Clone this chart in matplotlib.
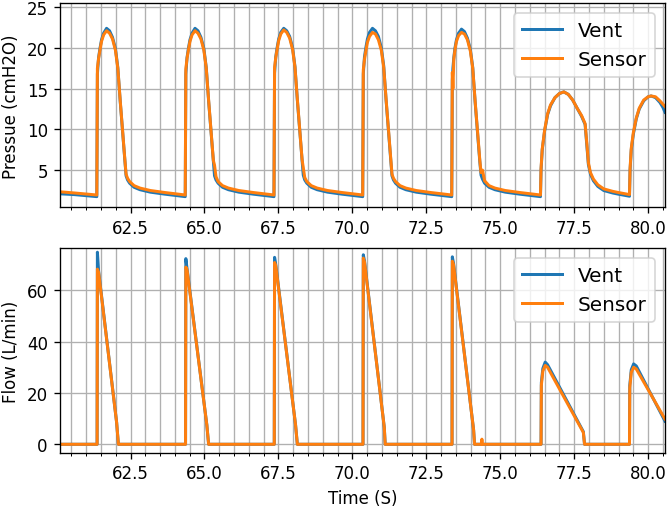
import matplotlib
matplotlib.use("Agg")
import matplotlib.pyplot as plt
from matplotlib.ticker import MultipleLocator

# pressure trace (time in s, cmH2O)
t_pres = [60.10, 60.60, 61.36,
          61.38, 61.42, 61.47, 61.52, 61.59, 61.69, 61.79, 61.89, 61.99, 62.07, 62.15,
          62.24, 62.31, 62.35, 62.40, 62.47, 62.62, 62.82, 63.17, 63.67, 64.35,
          64.37, 64.41, 64.46, 64.51, 64.58, 64.68, 64.78, 64.88, 64.98, 65.06, 65.14,
          65.23, 65.30, 65.34, 65.39, 65.46, 65.61, 65.81, 66.16, 66.66, 67.35,
          67.37, 67.41, 67.46, 67.51, 67.58, 67.68, 67.78, 67.88, 67.98, 68.06, 68.14,
          68.23, 68.30, 68.34, 68.39, 68.46, 68.61, 68.81, 69.16, 69.66, 70.35,
          70.37, 70.41, 70.46, 70.51, 70.58, 70.68, 70.78, 70.88, 70.98, 71.06, 71.14,
          71.23, 71.30, 71.34, 71.39, 71.46, 71.61, 71.81, 72.16, 72.66, 73.36,
          73.38, 73.40, 73.43, 73.47, 73.52, 73.59, 73.69, 73.79, 73.89, 73.99, 74.07, 74.15,
          74.24, 74.31, 74.35, 74.40, 74.47, 74.62, 74.82, 75.17, 75.67, 76.36,
          76.38, 76.42, 76.50, 76.60, 76.70, 76.85, 77.00, 77.15, 77.30, 77.45, 77.60, 77.75,
          77.87, 77.93, 77.98, 78.05, 78.15, 78.30, 78.50, 78.80, 79.00, 79.37,
          79.39, 79.43, 79.50, 79.60, 79.70, 79.85, 80.00, 80.10, 80.25, 80.40, 80.50, 80.57]
p_vent = [2.1, 2.0, 1.75,
          16.8, 18.8, 20.0, 21.0, 21.8, 22.4, 22.1, 21.3, 19.9, 17.6, 13.5,
          9.3, 6.0, 4.3, 3.8, 3.4, 2.9, 2.6, 2.3, 2.05, 1.75,
          16.8, 18.8, 20.0, 21.0, 21.8, 22.4, 22.1, 21.3, 19.9, 17.6, 13.5,
          9.3, 6.0, 4.3, 3.8, 3.4, 2.9, 2.6, 2.3, 2.05, 1.75,
          16.9, 18.9, 20.1, 21.1, 21.9, 22.4, 22.1, 21.4, 20.0, 17.7, 13.6,
          9.4, 6.1, 4.4, 3.8, 3.4, 2.9, 2.6, 2.3, 2.05, 1.75,
          16.8, 18.9, 20.1, 21.1, 21.9, 22.4, 22.1, 21.4, 20.0, 17.8, 13.6,
          9.4, 6.0, 4.3, 3.8, 3.4, 2.9, 2.6, 2.3, 2.05, 1.75,
          16.0, 17.5, 18.8, 20.0, 21.0, 21.8, 22.3, 22.0, 21.2, 19.8, 17.6, 13.4,
          9.2, 6.0, 4.4, 3.9, 3.4, 2.9, 2.6, 2.3, 2.05, 1.75,
          5.0, 7.5, 9.8, 11.8, 12.9, 13.9, 14.4, 14.6, 14.3, 13.6, 12.6, 11.6,
          10.6, 8.0, 5.7, 4.5, 3.7, 3.0, 2.5, 2.2, 2.05, 1.8,
          5.0, 7.5, 9.4, 11.3, 12.5, 13.5, 14.0, 14.1, 13.9, 13.3, 12.7, 12.1]
p_sensor = [2.35, 2.2, 1.95,
            17.5, 18.7, 19.8, 20.8, 21.6, 22.1, 21.8, 21.1, 19.7, 17.5, 13.6,
            9.4, 6.2, 4.5, 4.0, 3.6, 3.1, 2.8, 2.5, 2.25, 1.95,
            17.4, 18.7, 19.8, 20.8, 21.6, 22.1, 21.8, 21.1, 19.7, 17.5, 13.6,
            9.4, 6.2, 5.6, 4.2, 3.6, 3.1, 2.8, 2.5, 2.25, 1.95,
            17.6, 18.8, 19.9, 20.9, 21.7, 22.2, 21.9, 21.2, 19.8, 17.6, 13.7,
            9.5, 6.3, 5.3, 4.1, 3.6, 3.1, 2.8, 2.5, 2.25, 1.95,
            17.3, 18.6, 19.7, 20.7, 21.4, 21.9, 21.7, 21.0, 19.7, 17.6, 13.7,
            9.5, 6.2, 4.5, 4.0, 3.6, 3.1, 2.8, 2.5, 2.25, 1.95,
            17.0, 15.0, 18.6, 19.8, 20.8, 21.5, 21.9, 21.7, 21.0, 19.6, 17.5, 13.5,
            9.3, 6.2, 4.7, 5.0, 3.7, 3.1, 2.8, 2.5, 2.25, 1.95,
            5.2, 7.6, 9.9, 11.9, 13.0, 13.9, 14.4, 14.6, 14.3, 13.6, 12.6, 11.7,
            10.7, 8.2, 5.9, 4.7, 3.9, 3.2, 2.7, 2.4, 2.25, 2.0,
            5.2, 7.7, 9.6, 11.4, 12.6, 13.6, 14.0, 14.1, 14.0, 13.5, 13.1, 12.8]

# flow trace (time in s, L/min)
t_flow = [60.10,
          61.37, 61.38, 61.42, 62.03, 62.09,
          64.36, 64.37, 64.41, 65.08, 65.14,
          67.36, 67.37, 67.41, 68.08, 68.14,
          70.36, 70.37, 70.41, 71.08, 71.11,
          73.37, 73.38, 73.42, 74.10, 74.13, 74.36, 74.38, 74.40,
          76.38, 76.39, 76.44, 76.52, 76.60, 77.81, 77.85,
          79.37, 79.38, 79.43, 79.51, 79.60, 80.57]
f_vent = [0,
          0, 74.8, 67.5, 8.5, 0,
          0, 72.3, 68.5, 7.5, 0,
          0, 72.8, 70.0, 7.5, 0,
          0, 73.8, 71.5, 6.5, 0,
          0, 73.0, 70.5, 5.5, 0, 0, 0, 0,
          0, 24.0, 29.5, 32.0, 31.0, 4.9, 0,
          0, 23.0, 29.0, 31.3, 30.5, 9.0]
f_sensor = [0,
            0, 68.2, 67.0, 8.5, 0,
            0, 69.0, 68.0, 7.5, 0,
            0, 70.8, 69.5, 7.5, 0,
            0, 72.5, 71.0, 6.5, 0,
            0, 71.3, 70.0, 5.5, 0, 0, 2.0, 0,
            0, 23.0, 28.5, 30.7, 30.0, 4.6, 0,
            0, 22.0, 28.0, 30.0, 29.3, 9.8]

fig = plt.figure(figsize=(669 / 120, 507 / 120), dpi=120)
ax1 = fig.add_subplot(2, 1, 1)
ax2 = fig.add_subplot(2, 1, 2)

ax1.plot(t_pres, p_vent, label='Vent', lw=1.8)
ax1.plot(t_pres, p_sensor, label='Sensor', lw=1.8)
ax1.set_ylabel('Pressue (cmH2O)')
ax1.set_ylim(0.42, 25.5)
ax1.legend(loc='upper right', fontsize=12)

ax2.plot(t_flow, f_vent, label='Vent', lw=1.8)
ax2.plot(t_flow, f_sensor, label='Sensor', lw=1.8)
ax2.set_ylabel('Flow (L/min)')
ax2.set_xlabel('Time (S)')
ax2.set_ylim(-3.3, 76.3)
ax2.legend(loc='upper right', fontsize=12)

for ax in (ax1, ax2):
    ax.set_xlim(60.1, 80.57)
    ax.xaxis.set_major_locator(MultipleLocator(2.5))
    ax.xaxis.set_minor_locator(MultipleLocator(0.5))
    ax.grid(True, which='both')

fig.subplots_adjust(left=0.089, right=0.994, top=0.992, bottom=0.105, hspace=0.2)
fig.savefig('out.png', dpi=120)
